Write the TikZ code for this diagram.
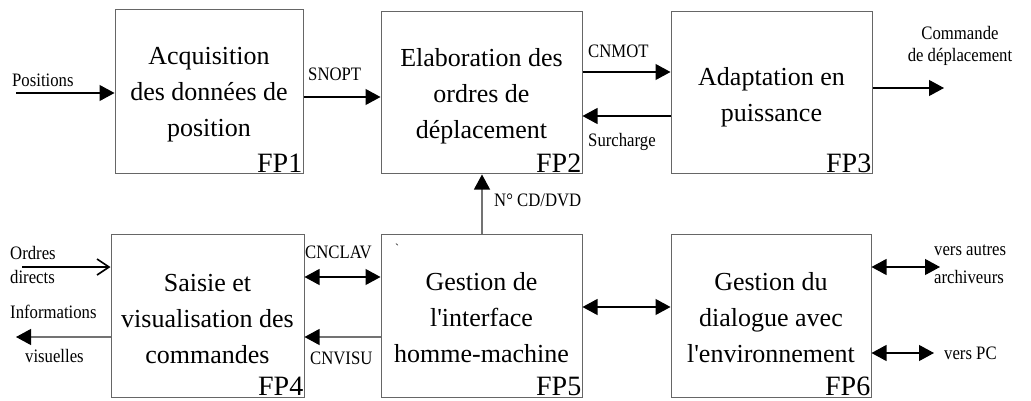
\documentclass[tikz,border=0pt]{standalone}
\usepackage{fontspec}
\setmainfont{Liberation Serif}
\newfontfamily\labfont[FakeStretch=0.88]{Liberation Serif}
\usetikzlibrary{arrows.meta,calc}
\begin{document}
\begin{tikzpicture}[x=1pt,y=-1pt,
  fbox/.style={draw=black!60,line width=1pt,inner sep=0pt,rectangle},
  btxt/.style={align=center,font=\fontsize{26}{36}\selectfont,inner sep=0pt},
  fplab/.style={anchor=base east,font=\fontsize{28}{30}\selectfont,inner sep=0pt,text depth=0pt},
  lab/.style={font=\labfont\fontsize{19}{20}\selectfont,inner sep=0pt},
  arr/.style={line width=1.1pt,-{Triangle[length=15pt,width=16pt]}},
  darr/.style={line width=1.1pt,{Triangle[length=15pt,width=16pt]}-{Triangle[length=15pt,width=16pt]}},
  garr/.style={line width=1.1pt,draw=black!55,-{Triangle[length=15pt,width=16pt,color=black]}},
  barb/.style={line width=1.1pt,-{Straight Barb[length=12pt,width=16pt,line width=1.6pt]}}
]
\useasboundingbox (0,0) rectangle (1031,401);

% boxes
\node[fbox,minimum width=188pt,minimum height=164pt] (fp1) at (209,92) {};
\node[fbox,minimum width=201pt,minimum height=162pt] (fp2) at (481.5,93) {};
\node[fbox,minimum width=201pt,minimum height=162pt] (fp3) at (771.5,93) {};
\node[fbox,minimum width=193pt,minimum height=163pt] (fp4) at (207.5,315.5) {};
\node[fbox,minimum width=201pt,minimum height=163pt] (fp5) at (481.5,316) {};
\node[fbox,minimum width=200pt,minimum height=163pt] (fp6) at (771,316) {};

% box texts
\node[btxt] (t1) at (209,95) {Acquisition\\des données de\\position};
\node[btxt] (t2) at (481.5,96) {Elaboration des\\ordres de\\déplacement};
\node[btxt] (t3) at (771.5,97) {Adaptation en\\puissance};
\node[btxt] (t4) at (207.5,319) {Saisie et\\visualisation des\\commandes};
\node[btxt] (t5) at (481.5,318) {Gestion de\\l\textquotesingle interface\\homme-machine};
\node[btxt] (t6) at (771,318) {Gestion du\\dialogue avec\\l\textquotesingle environnement};

\node[fplab] (l1) at ($(fp1.south east)+(-1,-2.5)$) {FP1};
\node[fplab] (l2) at ($(fp2.south east)+(-1,-2.5)$) {FP2};
\node[fplab] (l3) at ($(fp3.south east)+(-1,-2.5)$) {FP3};
\node[fplab] (l4) at ($(fp4.south east)+(-1,-2.5)$) {FP4};
\node[fplab] (l5) at ($(fp5.south east)+(-1,-2.5)$) {FP5};
\node[fplab] (l6) at ($(fp6.south east)+(-1,-2.5)$) {FP6};

% free ends
\coordinate (posin) at (16,93);
\coordinate (cmdout) at (944,88);
\coordinate (ordin) at (22,267);
\coordinate (infout) at (16,337);
\coordinate (archout) at (940,267);
\coordinate (pcout) at (934,353);

% connectors
\draw[arr] (posin) -- (fp1.west |- posin);
\draw[arr] (fp1.east |- 0,97) -- (fp2.west |- 0,97);
\draw[arr] (fp2.east |- 0,72) -- (fp3.west |- 0,72);
\draw[arr] (fp3.west |- 0,116) -- (fp2.east |- 0,116);
\draw[arr] (fp3.east |- cmdout) -- (cmdout);
\draw[garr] (fp5.north -| 482,0) -- (fp2.south -| 482,0);
\draw[barb] (ordin) -- (fp4.west |- ordin);
\draw[garr] (fp4.west |- infout) -- (infout);
\draw[darr] (fp4.east |- 0,277) -- (fp5.west |- 0,277);
\draw[garr] (fp5.west |- 0,337) -- (fp4.east |- 0,337);
\draw[darr] (fp5.east |- 0,307) -- (fp6.west |- 0,307);
\draw[darr] (fp6.east |- archout) -- (archout);
\draw[darr] (fp6.east |- pcout) -- (pcout);

% labels
\node[lab,anchor=west] (lpos) at (12,80) {Positions};
\node[lab,anchor=west] (lsn) at (308,74) {SNOPT};
\node[lab,anchor=west] (lcn) at (588,51) {CNMOT};
\node[lab,anchor=west] (lsur) at (588,142) {Surcharge};
\node[lab,align=center,font=\labfont\fontsize{19}{22}\selectfont] (lcmd) at (960,46) {Commande\\de déplacement};
\node[lab,anchor=west] (lcd) at (494,200) {N° CD/DVD};
\node[lab,anchor=west] (lcl) at (305,252) {CNCLAV};
\node[lab,anchor=west] (lcv) at (310,358) {CNVISU};
\node[lab,align=left,anchor=west,font=\labfont\fontsize{19}{24}\selectfont] (lord) at (10,265) {Ordres\\directs};
\node[lab,anchor=west] (linf) at (10,312) {Informations};
\node[lab,anchor=west] (lvis) at (25,356) {visuelles};
\node[lab,align=left,anchor=west,font=\labfont\fontsize{19}{28}\selectfont] (larch) at (934,264) {vers autres\\archiveurs};
\node[lab,anchor=west] (lpc) at (944,353) {vers PC};
\node[lab,font=\fontsize{12}{12}\selectfont] (tick) at (397,248) {\textasciigrave};
\end{tikzpicture}
\end{document}
